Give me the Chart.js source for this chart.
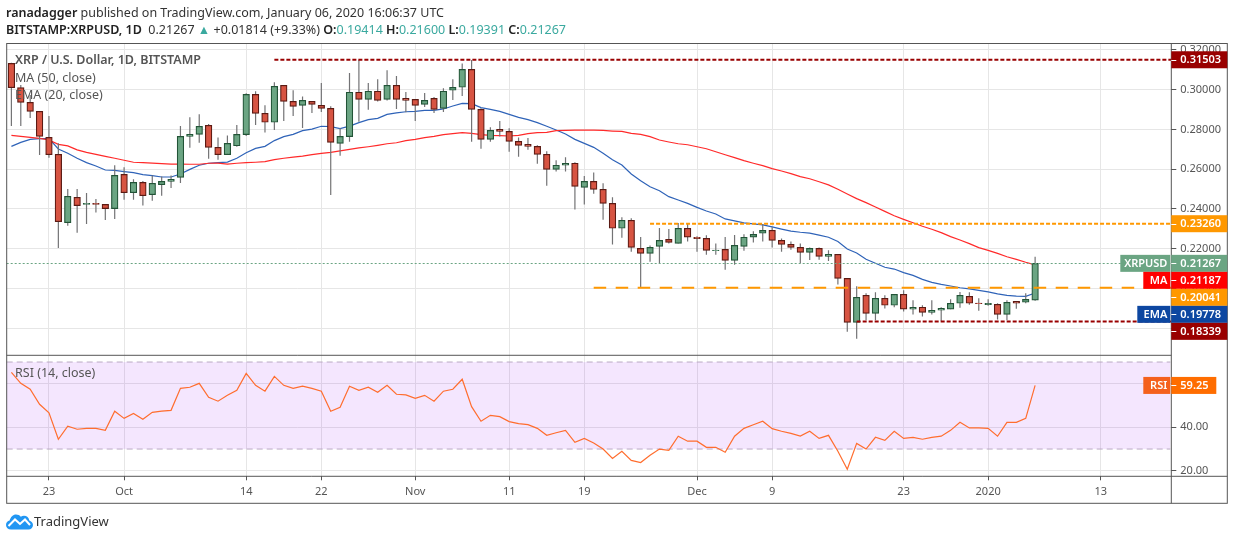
<!DOCTYPE html>
<html><head><meta charset="utf-8">
<script src="https://cdn.jsdelivr.net/npm/chart.js@4"></script>
<style>
html,body{margin:0;padding:0;background:#fff;width:1234px;height:540px;overflow:hidden}
#wrap{position:relative;width:1234px;height:540px}
canvas{position:absolute;left:0;top:0}
.t{position:absolute;white-space:nowrap;font-family:"Noto Sans",sans-serif;line-height:16px}
.h{font-size:12.5px;color:#333;left:6px}
.h b{font-weight:600;color:#222}
.v{color:#3aa99f}
.o{font-size:12.5px;color:#555;left:15px}
</style></head><body><div id="wrap">
<canvas id="c" width="1234" height="540"></canvas>
<div class="t h" style="top:5px">  <b>ranadagger</b> published on TradingView.com, January 06, 2020 16:06:37 UTC</div>
<div class="t h" style="top:22px"><b>BITSTAMP:XRPUSD, 1D</b>&nbsp; 0.21267 <span class="v">▲</span> +0.01814 (+9.33%) <b>O:</b><span class="v">0.19414</span> <b>H:</b><span class="v">0.21600</span> <b>L:</b><span class="v">0.19391</span> <b>C:</b><span class="v">0.21267</span></div>
<div class="t o" style="top:52px;font-weight:600">XRP / U.S. Dollar, 1D, BITSTAMP</div>
<div class="t o" style="top:70px">MA (50, close)</div>
<div class="t o" style="top:87px">EMA (20, close)</div>
<div class="t o" style="top:365px">RSI (14, close)</div>
<svg style="position:absolute;left:6px;top:513px" width="27" height="17" viewBox="0 0 27 17"><path d="M5 16.5C2 16.5 0 14.5 0 12c0-2.3 1.6-4 3.6-4.4C4.6 4 7 1.500 10 1.500c2 0 3.700.8 4.800 2.200 1-.7 2-1 3.200-1 2.800 0 5 2 5.300 4.800 2 .6 3.700 2.300 3.700 4.500 0 2.600-2 4.500-4.500 4.500z" fill="#2196f3"/><path d="M2.500 13 L9 6.500 L14 11 L19 6.500 L24 12" fill="none" stroke="#fff" stroke-width="2"/></svg>
<div class="t" style="left:34px;top:513px;font-size:13px;color:#333">TradingView</div>
</div>
<script>
const dates=["09-19","09-20","09-21","09-22","09-23","09-24","09-25","09-26","09-27","09-28","09-29","09-30",
"10-01","10-02","10-03","10-04","10-05","10-06","10-07","10-08","10-09","10-10","10-11","10-12","10-13","10-14","10-15","10-16","10-17","10-18","10-19","10-20","10-21","10-22","10-23","10-24","10-25","10-26","10-27","10-28","10-29","10-30","10-31",
"11-01","11-02","11-03","11-04","11-05","11-06","11-07","11-08","11-09","11-10","11-11","11-12","11-13","11-14","11-15","11-16","11-17","11-18","11-19","11-20","11-21","11-22","11-23","11-24","11-25","11-26","11-27","11-28","11-29","11-30",
"12-01","12-02","12-03","12-04","12-05","12-06","12-07","12-08","12-09","12-10","12-11","12-12","12-13","12-14","12-15","12-16","12-17","12-18","12-19","12-20","12-21","12-22","12-23","12-24","12-25","12-26","12-27","12-28","12-29","12-30","12-31",
"01-01","01-02","01-03","01-04","01-05","01-06","01-07","01-08","01-09","01-10","01-11","01-12","01-13","01-14","01-15","01-16","01-17","01-18","01-19","01-20"];
const tickDates=["09-23","10-01","10-14","10-22","11-01","11-11","11-19","12-01","12-09","12-23","01-01","01-13"];
const tickTexts=["23","Oct","14","22","Nov","11","19","Dec","9","23","2020","13"];
const priceTicks=[0.18,0.20,0.22,0.24,0.26,0.28,0.30,0.32];
const rsiTicks=[20,40,60];
const opens=[.3132,.3010,.2936,.2891,.2760,.2675,.2331,.2459,.2423,.2428,.2423,.2402,.2574,.2482,.2534,.2472,.2522,.2539,.2559,.2765,.2775,.2821,.2710,.2673,.2718,.2774,.2976,.2881,.2836,.3022,.2941,.2921,.2941,.2921,.2906,.2730,.2764,.2987,.2951,.2992,.2951,.3022,.2956,.2951,.2926,.2956,.2906,.2997,.3012,.3102,.2901,.2750,.2801,.2790,.2740,.2725,.2715,.2675,.2599,.2620,.2630,.2509,.2539,.2499,.2428,.2303,.2343,.2202,.2177,.2212,.2247,.2227,.2303,.2258,.2252,.2190,.2197,.2142,.2212,.2258,.2278,.2293,.2242,.2222,.2207,.2182,.2202,.2162,.2172,.2051,.1830,.1966,.1875,.1951,.1916,.1971,.1896,.1906,.1880,.1891,.1896,.1926,.1961,.1927,.1919,.1921,.1870,.1936,.1931,.19414];
const highs=[.3135,.3023,.2973,.2891,.2868,.2730,.2500,.2500,.2480,.2450,.2423,.2620,.2610,.2549,.2541,.2569,.2563,.2569,.2817,.2861,.2876,.2827,.2760,.2770,.2822,.2982,.2992,.2921,.3037,.3022,.2997,.2966,.2941,.3034,.2916,.2806,.3084,.3149,.3034,.3052,.3097,.3069,.2988,.2951,.2983,.2963,.3007,.3052,.3132,.3149,.2906,.2811,.2842,.2806,.2760,.2757,.2720,.2690,.2645,.2660,.2635,.2566,.2584,.2529,.2459,.2358,.2353,.2259,.2217,.2304,.2299,.2330,.2325,.2263,.2268,.2227,.2259,.2269,.2273,.2288,.2325,.2308,.2252,.2237,.2227,.2207,.2207,.2192,.2172,.2051,.2011,.1976,.1981,.1966,.1971,.1991,.1941,.1916,.1941,.1906,.1946,.1983,.1981,.1951,.1946,.1926,.1941,.1936,.1976,.21600];
const lows=[.2817,.2817,.2858,.2672,.2658,.2204,.2316,.2281,.2325,.2382,.2345,.2350,.2447,.2447,.2417,.2442,.2467,.2506,.2531,.2708,.2733,.2653,.2648,.2673,.2713,.2767,.2822,.2784,.2797,.2842,.2868,.2807,.2883,.2888,.2470,.2668,.2738,.2839,.2899,.2940,.2945,.2903,.2886,.2842,.2913,.2883,.2888,.2948,.2968,.2738,.2703,.2738,.2764,.2688,.2663,.2698,.2628,.2517,.2588,.2588,.2397,.2422,.2477,.2346,.2221,.2256,.2185,.2004,.2135,.2127,.2226,.2227,.2236,.2185,.2170,.2170,.2095,.2120,.2190,.2231,.2236,.2206,.2185,.2195,.2127,.2144,.2145,.2138,.2020,.1783,.1748,.1840,.1840,.1900,.1906,.1884,.1869,.1859,.1869,.1835,.1896,.1904,.1919,.1889,.1914,.1845,.1840,.1899,.1926,.19391];
const closes=[.3010,.2936,.2891,.2765,.2673,.2336,.2464,.2417,.2428,.2423,.2402,.2569,.2482,.2534,.2467,.2529,.2539,.2549,.2765,.2775,.2816,.2710,.2673,.2730,.2775,.2976,.2881,.2836,.3017,.2941,.2916,.2946,.2926,.2906,.2735,.2765,.2987,.2951,.2992,.2946,.3022,.2951,.2946,.2921,.2946,.2901,.2992,.3012,.3102,.2901,.2750,.2795,.2790,.2740,.2720,.2715,.2675,.2599,.2620,.2630,.2514,.2539,.2499,.2428,.2303,.2343,.2207,.2177,.2207,.2242,.2232,.2303,.2258,.2251,.2192,.2194,.2142,.2217,.2258,.2273,.2293,.2242,.2222,.2207,.2182,.2202,.2162,.2172,.2051,.1830,.1956,.1875,.1951,.1916,.1971,.1896,.1906,.1880,.1891,.1900,.1926,.1966,.1926,.1924,.1926,.1870,.1931,.1926,.1946,.21267];
const ma50=[.2770,.2765,.2760,.2755,.2747,.2725,.2717,.2697,.2685,.2675,.2665,.2655,.2645,.2635,.2633,.2631,.2628,.2626,.2626,.2625,.2625,.2630,.2631,.2626,.2630,.2633,.2635,.2638,.2648,.2655,.2661,.2666,.2673,.2680,.2685,.2692,.2700,.2707,.2713,.2720,.2728,.2733,.2744,.2750,.2759,.2765,.2774,.2779,.2784,.2780,.2774,.2770,.2769,.2767,.2770,.2779,.2784,.2785,.2794,.2795,.2797,.2797,.2797,.2795,.2792,.2790,.2780,.2775,.2764,.2747,.2737,.2728,.2723,.2713,.2703,.2688,.2673,.2658,.2643,.2630,.2618,.2603,.2591,.2578,.2563,.2552,.2537,.2521,.2499,.2475,.2452,.2432,.2410,.2388,.2366,.2348,.2331,.2313,.2298,.2281,.2261,.2244,.2226,.2206,.2192,.2177,.2160,.2147,.2132,.21187];
const ema20=[.2715,.2735,.2750,.2754,.2754,.2702,.2680,.2655,.2633,.2616,.2596,.2594,.2588,.2583,.2573,.2568,.2561,.2561,.2576,.2599,.2620,.2630,.2633,.2636,.2655,.2683,.2705,.2715,.2744,.2764,.2775,.2794,.2802,.2816,.2814,.2804,.2817,.2834,.2849,.2856,.2876,.2883,.2889,.2891,.2896,.2896,.2903,.2918,.2931,.2930,.2910,.2901,.2891,.2876,.2861,.2849,.2834,.2816,.2797,.2777,.2750,.2730,.2710,.2680,.2648,.2621,.2576,.2542,.2512,.2492,.2462,.2445,.2428,.2408,.2390,.2375,.2350,.2340,.2330,.2325,.2320,.2310,.2299,.2289,.2283,.2279,.2269,.2258,.2237,.2199,.2179,.2147,.2127,.2107,.2098,.2080,.2066,.2046,.2031,.2021,.2013,.2004,.1998,.1991,.1983,.1973,.1966,.1962,.1961,.19778];
const rsi14=[65.3,60.2,57.5,50.6,46.7,34.5,40.5,39.1,39.5,39.5,38.6,47.4,44.1,46.4,43.7,46.9,47.4,47.8,57.9,58.4,60.2,53.8,52.0,54.7,57.0,64.8,59.3,56.6,63.4,59.3,57.9,58.9,57.9,56.6,47.4,49.2,58.9,57.0,58.4,56.1,59.3,55.2,54.9,53.3,54.7,52.0,56.6,57.5,62.1,49.5,42.8,45.5,44.9,42.6,41.7,41.2,39.5,36.3,37.5,38.6,33.1,34.9,32.8,30.0,25.7,29.0,24.8,23.8,27.1,30.0,29.4,35.9,33.6,33.6,30.8,30.8,28.5,35.9,39.5,41.2,42.8,39.4,38.2,37.2,36.0,38.2,34.9,36.3,29.0,20.7,32.6,30.0,35.4,34.0,38.2,34.9,35.4,34.5,35.4,35.9,38.6,42.3,39.7,39.7,39.5,35.9,42.3,42.3,44.1,59.25];
const levelValues=[.31503,.2326,.20041,.18339];
const levelStarts=["10-17","11-26","11-20","12-18"];
const levelColors=["#990000","#ff9800","#ff9800","#990000"];
const levelDashes=[[4,2],[4,2],[12.500,9.500],[4,2]];
const lastPrice=.21267, lastMa=.21187, lastEma=.19778, lastRsi=59.25;

const UP="#6ba583",DN="#d75442",UPB="#225437",DNB="#5b1a13";
const FONT='"Noto Sans",sans-serif';
const isUp=i=>closes[i]>=opens[i];

const overlay={id:'overlay',
 beforeDatasetsDraw(ch){const g=ch.ctx,a=ch.chartArea,r=ch.scales.rsi;
  g.save();g.fillStyle='rgba(145,5,245,0.1)';
  const y70=r.getPixelForValue(70),y30=r.getPixelForValue(30);
  g.fillRect(a.left,y70,a.right-a.left-1,y30-y70);
  g.strokeStyle='#b9aac4';g.lineWidth=1;g.setLineDash([6,4]);
  [y70,y30].forEach(y=>{g.beginPath();g.moveTo(a.left,y);g.lineTo(a.right-1,y);g.stroke();});
  g.restore();},
 afterDatasetsDraw(ch){const g=ch.ctx,a=ch.chartArea,x=ch.scales.x,y=ch.scales.y;
  g.save();
  g.strokeStyle='#6ba583';g.lineWidth=1;g.setLineDash([2,2]);
  const yp=Math.round(y.getPixelForValue(lastPrice))+.5;
  g.beginPath();g.moveTo(a.left,yp);g.lineTo(a.right,yp);g.stroke();
  levelValues.forEach((v,k)=>{g.strokeStyle=levelColors[k];g.lineWidth=2;g.setLineDash(levelDashes[k]);
   const py=y.getPixelForValue(v);
   g.beginPath();g.moveTo(x.getPixelForValue(dates.indexOf(levelStarts[k])),py);g.lineTo(a.right,py);g.stroke();});
  g.restore();},
 afterDraw(ch){const g=ch.ctx,a=ch.chartArea,y=ch.scales.y,r=ch.scales.rsi,L=a.right,R=1227.3,H=17;
  g.save();
  // frame and pane divider
  g.strokeStyle='#555';g.lineWidth=1;
  const ln=(x1,y1,x2,y2)=>{g.beginPath();g.moveTo(x1,y1);g.lineTo(x2,y2);g.stroke();};
  g.strokeRect(a.left,a.top,R-a.left,503.3-a.top);
  ln(L,a.top,L,503.3);ln(a.left,y.bottom,L,y.bottom);ln(a.left,a.bottom,R,a.bottom);
  const tag=(cy,w,fill,text)=>{g.fillStyle=fill;g.fillRect(L,cy-H/2,w,H);
   g.fillStyle='#fff';g.fillRect(L,Math.round(cy),5,1);
   g.font='600 11px '+FONT;g.textAlign='left';g.textBaseline='middle';g.fillText(text,L+9,cy+.5);};
  const pill=(cy,w,fill,text)=>{g.fillStyle=fill;g.fillRect(L-1-w,cy-H/2,w,H);
   g.fillStyle='#fff';g.font='600 11px '+FONT;g.textAlign='right';g.textBaseline='middle';g.fillText(text,L-4,cy+.5);};
  tag(y.getPixelForValue(levelValues[0]),R-L,'#990000',levelValues[0].toFixed(5));
  tag(y.getPixelForValue(levelValues[1]),R-L,'#ff9800',levelValues[1].toFixed(5));
  const stack=[[lastPrice,UP,'XRPUSD',50],[lastMa,'#ff0000','MA',27],[levelValues[2],'#ff9800',null,0],[lastEma,'#0d47a1','EMA',33],[levelValues[3],'#990000',null,0]];
  let prev=-1e9;
  stack.forEach(s=>{const cy=Math.max(y.getPixelForValue(s[0]),prev+H);prev=cy;
   tag(cy,R-L,s[1],s[0].toFixed(5));if(s[2])pill(cy,s[3],s[1],s[2]);});
  const ry=r.getPixelForValue(lastRsi);
  tag(ry,45,'#ff6d00',lastRsi.toFixed(2));pill(ry,27,'#f4611d','RSI');
  g.restore();}
};

new Chart(document.getElementById('c'),{
 type:'bar',
 data:{labels:dates,datasets:[
  {type:'bar',label:'body',data:opens.map((o,i)=>[o,closes[i]]),yAxisID:'y',order:1,grouped:false,barThickness:6.6,
   backgroundColor:c=>isUp(c.dataIndex)?UP:DN,borderColor:c=>isUp(c.dataIndex)?UPB:DNB,borderWidth:1.2,borderSkipped:false},
  {type:'bar',label:'wick',data:lows.map((l,i)=>[l,highs[i]]),yAxisID:'y',order:2,grouped:false,barThickness:1.2,
   backgroundColor:'#737375',borderWidth:0,inflateAmount:0},
  {type:'line',label:'MA',data:ma50,yAxisID:'y',order:3,borderColor:'#ff2a2a',borderWidth:1.2,pointRadius:0,tension:0},
  {type:'line',label:'EMA',data:ema20,yAxisID:'y',order:3,borderColor:'#2f63b8',borderWidth:1.2,pointRadius:0,tension:0},
  {type:'line',label:'RSI',data:rsi14,yAxisID:'rsi',order:3,borderColor:'#ff6d2e',borderWidth:1.2,pointRadius:0,tension:0}
 ]},
 options:{responsive:false,animation:false,devicePixelRatio:1,
  layout:{padding:{left:6.7,top:43.5,right:6.7,bottom:36.7}},
  plugins:{legend:{display:false},tooltip:{enabled:false}},
  scales:{
   x:{type:'category',offset:true,
    grid:{offset:false,color:'#e6e6e6',lineWidth:1,tickColor:'#555',tickLength:4},
    border:{display:false},
    ticks:{autoSkip:false,maxRotation:0,minRotation:0,padding:5,color:'#555',font:{family:FONT,size:11},
     callback(v){return tickTexts[tickDates.indexOf(dates[v])];}},
    afterBuildTicks(s){s.ticks=tickDates.map(d=>({value:dates.indexOf(d)}));},
    afterFit(s){s.height=27;}},
   y:{type:'linear',position:'right',stack:'p',stackWeight:311.8,min:.16644,max:.32321,
    grid:{color:'#e6e6e6',tickColor:'#555',tickLength:5},border:{display:false},
    ticks:{autoSkip:false,padding:4,color:'#555',font:{family:FONT,size:11},callback:v=>v.toFixed(5)},
    afterBuildTicks(s){s.ticks=priceTicks.map(v=>({value:v}));},
    afterFit(s){s.width=56;}},
   rsi:{type:'linear',position:'right',stack:'p',stackWeight:121,min:17.47,max:73.1,
    grid:{color:'#e6e6e6',tickColor:'#555',tickLength:5},border:{display:false},
    ticks:{autoSkip:false,padding:4,color:'#555',font:{family:FONT,size:11},callback:v=>v.toFixed(2)},
    afterBuildTicks(s){s.ticks=rsiTicks.map(v=>({value:v}));},
    afterFit(s){s.width=56;}}
  }},
 plugins:[overlay]
});
</script></body></html>
